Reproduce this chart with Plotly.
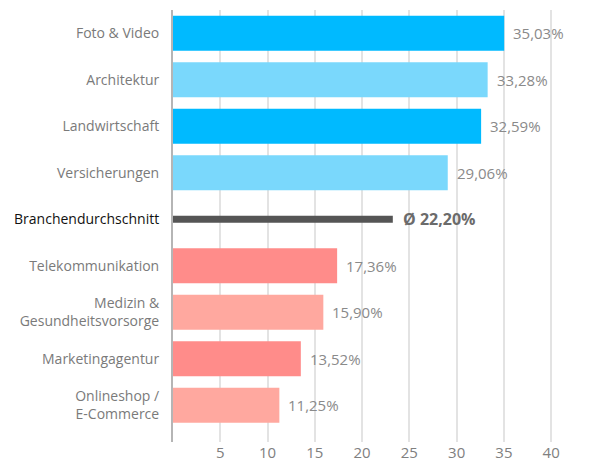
import plotly.graph_objects as go

categories = ["Foto & Video", "Architektur", "Landwirtschaft", "Versicherungen",
              "Branchendurchschnitt", "Telekommunikation", "Medizin &<br>Gesundheitsvorsorge",
              "Marketingagentur", "Onlineshop /<br>E-Commerce"]
# bar lengths (the average bar is drawn a bit longer than its label)
values = [35.03, 33.28, 32.59, 29.06, 23.25, 17.36, 15.90, 13.52, 11.25]
value_labels = ["35,03%", "33,28%", "32,59%", "29,06%", "Ø 22,20%",
                "17,36%", "15,90%", "13,52%", "11,25%"]
colors = ["#00BAFF", "#7AD8FC", "#00BAFF", "#7AD8FC", "#555555",
          "#FF8C8A", "#FFA89F", "#FF8C8A", "#FFA89F"]
x_ticks = [5, 10, 15, 20, 25, 30, 35, 40]

avg_idx = 4
widths = [0.75 if i != avg_idx else 0.15 for i in range(len(categories))]

FONT = "Open Sans, sans-serif"

fig = go.Figure()
fig.add_trace(go.Bar(
    x=values, y=list(range(len(categories))), orientation="h",
    marker=dict(color=colors, line=dict(width=0)),
    width=widths, hoverinfo="skip",
))

for i, (v, t) in enumerate(zip(values, value_labels)):
    bold = i == avg_idx
    fig.add_annotation(
        x=v, y=i, text=f"<b>{t}</b>" if bold else t, showarrow=False,
        xanchor="left", yanchor="middle", xshift=7 if not bold else 8,
        font=dict(size=16 if bold else 15, color="#6b6b6b" if bold else "#8a8a8a",
                  family=FONT),
    )

ticktext = [f"<span style='color:#111111'>{c}</span>" if i == avg_idx else c
            for i, c in enumerate(categories)]

# page body has an 8px margin; figure sized so the plot lands where the reference has it
fig.update_layout(
    width=592, height=458,
    margin=dict(l=165, r=11, t=2, b=24),
    plot_bgcolor="white", paper_bgcolor="white",
    showlegend=False,
    font=dict(family=FONT, size=14, color="#7a7a7a"),
    xaxis=dict(range=[0, 44], tickvals=x_ticks, showgrid=True,
               gridcolor="#e3e3e3", gridwidth=2, zeroline=False,
               showline=False, ticks="", tickfont=dict(size=15, color="#808080"),
               fixedrange=True),
    yaxis=dict(range=[8.79, -0.5], tickvals=list(range(len(categories))),
               ticktext=ticktext, showgrid=False, zeroline=False,
               showline=True, linecolor="#b5b5b5", linewidth=2,
               ticks="outside", ticklen=9, tickcolor="rgba(0,0,0,0)",
               tickfont=dict(size=14, color="#7a7a7a"), automargin=False),
)

fig.write_html("out.html")
